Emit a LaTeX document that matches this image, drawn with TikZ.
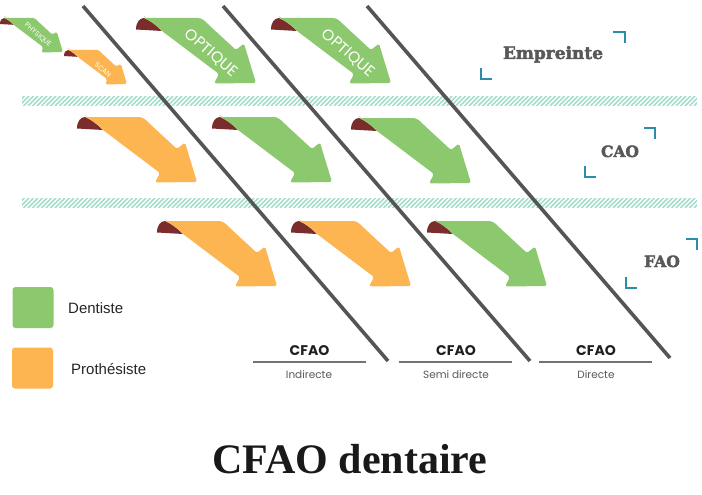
\documentclass[tikz,border=0pt]{standalone}
\usepackage{fontspec}
\newfontfamily\popp{Poppins}
\newfontfamily\slab{DejaVu Serif}[FakeBold=2.6]
\newfontfamily\arialf{Liberation Sans}
\newfontfamily\timesf{Liberation Serif}
\definecolor{greenc}{HTML}{8CC96E}
\definecolor{orangec}{HTML}{FDB552}
\definecolor{brownc}{HTML}{7A2D2A}
\definecolor{hatchc}{HTML}{A6DDCD}
\definecolor{tealc}{HTML}{2B8DAE}
\definecolor{linec}{HTML}{555555}
\definecolor{labelc}{HTML}{58585A}
\tikzset{
  pics/ribbon/.style={code={
    \fill[brownc] (0,11.5) .. controls (0,4) and (4,0) .. (8,0) .. controls (15,3) and (21,8) .. (26,13) -- cycle;
    \fill[#1, rounded corners=1.8] (8,0) -- (60,0) .. controls (66,0) and (69,3) .. (74,8) -- (100,32) -- (108,25.5) -- (120,65) -- (78,65.5) -- (83,56) -- (26,13) .. controls (21,8) and (15,3) .. (8,0) -- cycle;
  }},
  divline/.style={draw=linec, line width=3.6pt},
  hatch/.style={draw=hatchc, line width=1.7pt},
  bracket/.style={draw=tealc, line width=1.6pt},
  rowlabel/.style={anchor=base, text=labelc, font=\slab\bfseries\fontsize{15.5}{15.5}\selectfont},
  arrowtxt/.style={text=white, rotate=-41, inner sep=0pt},
  legbox/.style={minimum size=41pt, rounded corners=3pt, inner sep=0pt},
  legtxt/.style={anchor=base west, inner sep=0pt, text=black!85, font=\arialf\fontsize{15}{15}\selectfont},
  cfao/.style={anchor=base, inner sep=0pt, text=black!88, font=\popp\bfseries\fontsize{14}{14}\selectfont},
  subtxt/.style={anchor=base, inner sep=0pt, text=black!65, font=\popp\fontsize{10.5}{10.5}\selectfont},
  sepline/.style={draw=black!55, line width=1.2pt},
}
\begin{document}
\begin{tikzpicture}[x=1pt,y=-1pt]
\useasboundingbox[fill=white] (0,0) rectangle (702,495);
% hatched bands
\begin{scope}
  \clip (22,97) rectangle (697,105.5);
  \foreach \x in {10,14.5,...,700} { \draw[hatch] (\x,106) -- ++(10,-10); }
\end{scope}
\begin{scope}
  \clip (22,198.5) rectangle (697,207);
  \foreach \x in {10,14.5,...,700} { \draw[hatch] (\x,208) -- ++(10,-10); }
\end{scope}
% dividing lines
\coordinate (L1a) at (83,6);   \coordinate (L1b) at (388,361);
\coordinate (L2a) at (223,6);  \coordinate (L2b) at (530,361);
\coordinate (L3a) at (367,6);  \coordinate (L3b) at (670,358);
\draw[divline] (L1a) -- (L1b);
\draw[divline] (L2a) -- (L2b);
\draw[divline] (L3a) -- (L3b);
% arrows row 1
\pic[scale=0.525] at (0,18) {ribbon=greenc};
\pic[scale=0.525] at (64,50) {ribbon=orangec};
\pic at (136,18) {ribbon=greenc};
\pic at (271,18) {ribbon=greenc};
% arrows row 2
\pic at (77,117) {ribbon=orangec};
\pic at (212,117) {ribbon=greenc};
\pic at (351,118) {ribbon=greenc};
% arrows row 3
\pic at (157,221) {ribbon=orangec};
\pic at (291,221) {ribbon=orangec};
\pic at (427,221) {ribbon=greenc};
% arrow texts
\node[arrowtxt, font=\popp\fontsize{7}{7}\selectfont] (tphys) at (38,35) {PHYSIQUE};
\node[arrowtxt, font=\popp\fontsize{7}{7}\selectfont] (tscan) at (103,70) {SCAN};
\node[arrowtxt, font=\popp\fontsize{15.5}{15.5}\selectfont] (topt1) at (211,53) {OPTIQUE};
\node[arrowtxt, font=\popp\fontsize{15.5}{15.5}\selectfont] (topt2) at (348,53) {OPTIQUE};
% row labels with brackets
\node[rowlabel, font=\slab\bfseries\fontsize{17}{17}\selectfont] (lemp) at (553,59) {Empreinte};
\draw[bracket] (613,32) -- (625,32) -- (625,43);
\draw[bracket] (481,68) -- (481,79) -- (492,79);
\node[rowlabel] (lcao) at (620,157) {CAO};
\draw[bracket] (644,128) -- (655,128) -- (655,139);
\draw[bracket] (585,166) -- (585,177) -- (596,177);
\node[rowlabel] (lfao) at (662,267) {FAO};
\draw[bracket] (686,239) -- (697,239) -- (697,250);
\draw[bracket] (626,277) -- (626,288) -- (637,288);
% legend
\node[legbox, fill=greenc] (legD) at (33,307.5) {};
\node[legbox, fill=orangec] (legP) at (32.5,368) {};
\node[legtxt] (tD) at (68,313) {Dentiste};
\node[legtxt] (tP) at (71,374) {Prothésiste};
% bottom labels
\node[cfao] (c1) at (309.5,355) {CFAO};
\node[cfao] (c2) at (456,355) {CFAO};
\node[cfao] (c3) at (596,355) {CFAO};
\draw[sepline] (253,362) -- (366,362);
\draw[sepline] (399,362) -- (512,362);
\draw[sepline] (539,362) -- (652,362);
\node[subtxt] (s1) at (309,378) {Indirecte};
\node[subtxt] (s2) at (456,378) {Semi directe};
\node[subtxt] (s3) at (596,378) {Directe};
% title
\node[anchor=base, inner sep=0pt, text=black!90, font=\timesf\bfseries\fontsize{42}{42}\selectfont] (title) at (350,473) {CFAO dentaire};
\end{tikzpicture}
\end{document}
